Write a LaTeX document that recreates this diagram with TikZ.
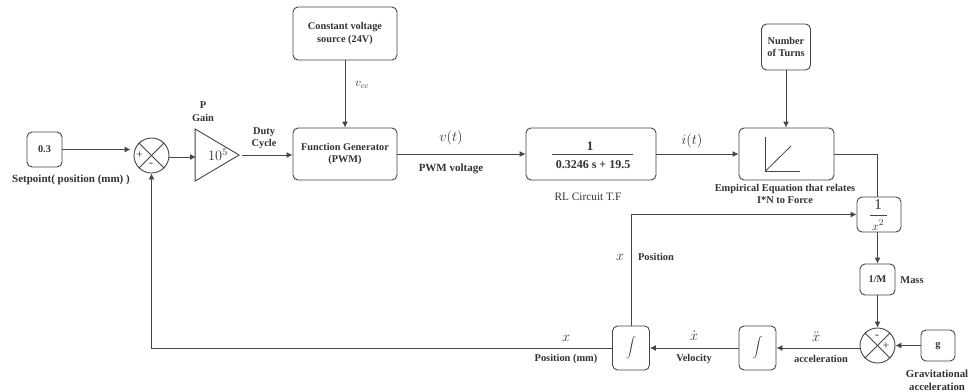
\documentclass[tikz,border=0pt]{standalone}
\usepackage{fontspec}
\setmainfont{Liberation Serif}
\usetikzlibrary{shapes.geometric,arrows.meta}
\definecolor{ln}{gray}{0.27}
\definecolor{tx}{gray}{0.2}
\tikzset{
  blk/.style={draw=ln,line width=0.9pt,rounded corners=5pt,inner sep=0pt,text=tx,font=\fontsize{10.3}{12.5}\selectfont\bfseries,align=center},
  sumc/.style={draw=ln,line width=0.9pt,circle,minimum size=35pt,inner sep=0pt},
  lbl/.style={inner sep=0pt,text=tx,font=\fontsize{10.4}{12.5}\selectfont\bfseries,align=center},
  mth/.style={inner sep=0pt,text=tx,font=\fontsize{14.5}{15}\selectfont},
  sgn/.style={inner sep=0pt,text=tx,font=\fontsize{12}{12}\selectfont},
  wire/.style={draw=ln,line width=0.9pt},
  arr/.style={wire,-{Latex[length=6pt,width=6pt]}}
}
\begin{document}
\begin{tikzpicture}[x=1pt,y=-1pt]
\useasboundingbox (0,0) rectangle (969,391);
\fill[white] (0,0) rectangle (969,391);
% blocks
\node[blk,minimum width=35pt,minimum height=35pt] (set) at (44.5,149.5) {0.3};
\node[sumc] (sa) at (151.5,155.5) {};
\node[isosceles triangle,isosceles triangle apex angle=61.2,draw=ln,line width=0.9pt,inner sep=0pt,minimum height=44pt,minimum width=52pt,anchor=apex,text=tx] (gain) at (240,155) {};
\node[mth,font=\fontsize{14}{15}\selectfont] (gtxt) at (218,155) {$10^5$};
\node[blk,minimum width=104pt,minimum height=52pt] (fg) at (345,154) {Function Generator\\(PWM)};
\node[blk,minimum width=104pt,minimum height=53pt] (cv) at (345,33.5) {Constant voltage\\source (24V)};
\node[blk,minimum width=130pt,minimum height=52pt] (rl) at (591,154) {};
\node[blk,minimum width=95pt,minimum height=52pt] (emp) at (786.5,154) {};
\node[blk,minimum width=49pt,minimum height=46pt] (nt) at (786,47) {Number\\of Turns};
\node[blk,minimum width=44pt,minimum height=35pt] (inv) at (879,214.5) {};
\node[blk,minimum width=35pt,minimum height=31pt] (mass) at (877.5,279.5) {1/M};
\node[sumc] (sb) at (877.5,345.5) {};
\node[blk,minimum width=34pt,minimum height=31pt] (g) at (938,345.5) {g};
\node[blk,minimum width=37pt,minimum height=44pt] (ib) at (757.5,348) {};
\node[blk,minimum width=37pt,minimum height=44pt] (ia) at (631,348) {};
% block contents
\node[mth,font=\fontsize{13}{14}\selectfont] (ib1) at (757.5,347.5) {$\displaystyle\int$};
\node[mth,font=\fontsize{13}{14}\selectfont] (ia1) at (631,347.5) {$\displaystyle\int$};
\node[inner sep=0pt,text=tx,font=\fontsize{13}{13}\selectfont\bfseries] (rl1) at (590,146) {1};
\node[inner sep=0pt,text=tx,font=\fontsize{12}{13}\selectfont\bfseries] (rl2) at (593,164.5) {0.3246 s + 19.5};
\coordinate (rla) at (552,154);
\coordinate (rlb) at (633,154);
\draw[ln,line width=0.8pt] (rla) -- (rlb);
\node[inner sep=0pt,text=tx,font=\fontsize{15}{15}\selectfont] (inv1) at (878,205) {1};
\node[inner sep=0pt,text=tx,font=\fontsize{13}{14}\selectfont] (inv2) at (878,225) {$x^2$};
\coordinate (inva) at (870,215);
\coordinate (invb) at (887,215);
\draw[ln,line width=0.8pt] (inva) -- (invb);
\coordinate (cha) at (765,137);
\coordinate (chb) at (765,171.5);
\coordinate (chc) at (800,171.5);
\coordinate (chd) at (791,146);
\draw[ln,line width=0.8pt] (cha) -- (chb) -- (chc);
\draw[ln,line width=0.8pt] (chb) -- (chd);
% summing crosses
\draw[wire] (sa.45) -- (sa.225);
\draw[wire] (sa.135) -- (sa.315);
\draw[wire] (sb.45) -- (sb.225);
\draw[wire] (sb.135) -- (sb.315);
\node[sgn] (sap) at (139.5,155.5) {+};
\node[sgn] (sam) at (151,165) {-};
\node[sgn] (sbm) at (877,337) {-};
\node[sgn] (sbp) at (886,346) {+};
% connectors
\draw[arr,shorten >=3pt] (set.east) -- (set.east -| sa.west);
\draw[arr] (sa.east |- 0,157) -- (196,157);
\draw[arr] (gain.apex) ++(2,0) -- (fg.west |- gain.apex);
\draw[arr] (cv.south) -- (fg.north);
\draw[arr] (fg.east) -- (rl.west);
\draw[arr] (rl.east) -- (emp.west);
\draw[arr] (nt.south) -- (emp.north -| nt.south);
\draw[wire] (emp.east) -| (inv.north -| mass.north);
\draw[arr] (inv.south -| mass.north) -- (mass.north);
\draw[arr] (mass.south) -- (sb.north);
\draw[arr] (g.west) -- (sb.east);
\draw[arr] (sb.west |- ib.east) -- (ib.east);
\draw[arr] (ib.west) -- (ia.east);
\draw[arr] (ia.west) -| (sa.south);
\draw[arr] (ia.north) |- (inv.west);
% labels
\node[lbl,font=\fontsize{11}{12.5}\selectfont\bfseries] (l1) at (71,180) {Setpoint( position (mm) )};
\node[lbl] (l2) at (203,111.5) {P\\Gain};
\node[lbl] (l3) at (264,138) {Duty\\Cycle};
\node[inner sep=0pt,text=tx,font=\fontsize{12}{12}\selectfont] (l4) at (362,85) {$v_{cc}$};
\node[mth] (l5) at (451,138) {$v(t)$};
\node[lbl,font=\fontsize{11}{12.5}\selectfont\bfseries] (l6) at (451,169) {PWM voltage};
\node[mth] (l7) at (692,141) {$i(t)$};
\node[lbl,font=\fontsize{11.3}{12}\selectfont] (l8) at (588,197) {RL Circuit T.F};
\node[lbl] (l9) at (785,194) {Empirical Equation that relates\\I*N to Force};
\node[mth] (l10) at (620,257) {$x$};
\node[lbl] (l11) at (656,257) {Position};
\node[lbl] (l12) at (912,280) {Mass};
\node[mth] (l13) at (816,337) {$\ddot{x}$};
\node[lbl] (l14) at (821,359) {acceleration};
\node[mth] (l15) at (694,336) {$\dot{x}$};
\node[lbl] (l16) at (694,359.5) {Velocity};
\node[mth] (l17) at (566,338) {$x$};
\node[lbl] (l18) at (566,359) {Position (mm)};
\node[lbl,font=\fontsize{10.8}{12.5}\selectfont\bfseries] (l19) at (937,380.5) {Gravitational\\acceleration};
\end{tikzpicture}
\end{document}
